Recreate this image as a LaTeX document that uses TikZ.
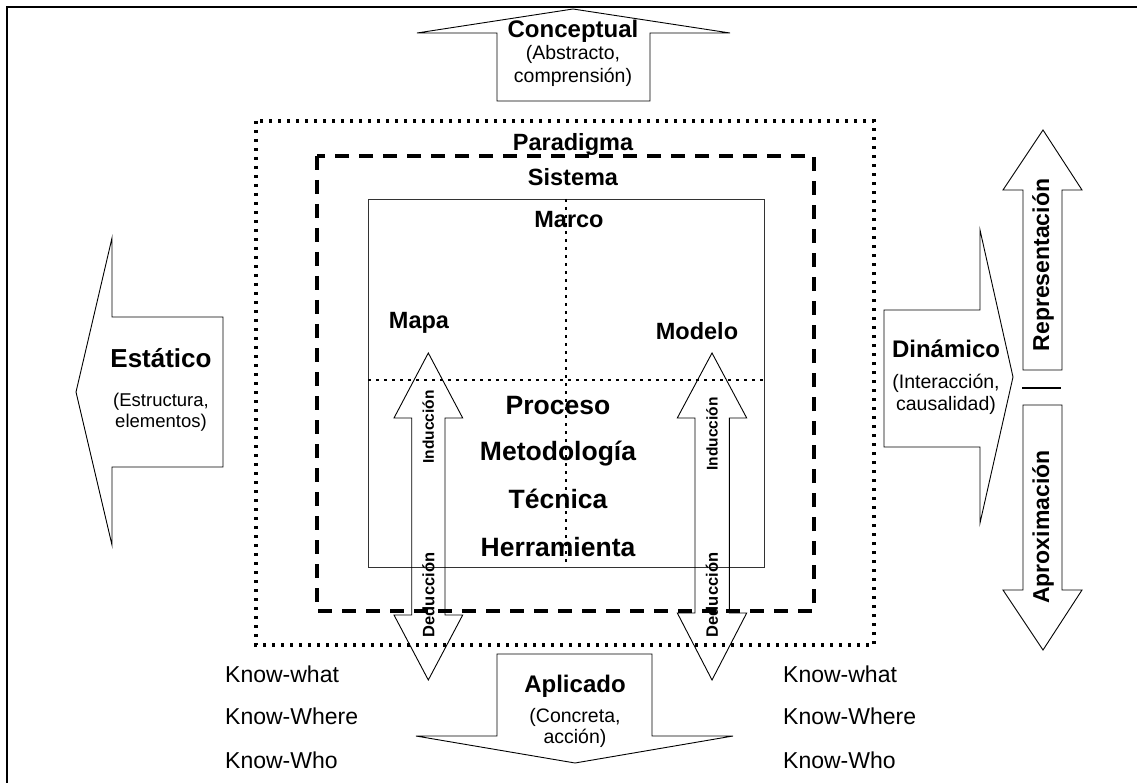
\documentclass[tikz,border=0pt]{standalone}
\usepackage{fontspec}
\setmainfont{Liberation Sans}
\begin{document}
\begin{tikzpicture}[x=1pt,y=-1pt,
  blockarrow/.style={draw=black,line width=0.9pt,line join=miter},
  title/.style={font=\fontsize{24}{28}\selectfont\bfseries,anchor=base},
  sub/.style={font=\fontsize{19.5}{23}\selectfont,anchor=base},
  level/.style={font=\fontsize{23.5}{27}\selectfont\bfseries,anchor=base},
  core/.style={font=\fontsize{26.5}{30}\selectfont\bfseries,anchor=base},
  know/.style={font=\fontsize{23}{27}\selectfont,anchor=base west},
  side/.style={font=\fontsize{23}{27}\selectfont\bfseries,rotate=90},
  flow/.style={font=\fontsize{15.5}{18}\selectfont\bfseries,rotate=90},
  inner sep=0pt]
\useasboundingbox (0,0) rectangle (1137,783);

% page frame (top and left edges)
\draw[line width=2.3pt] (7,783) -- (7,7) -- (1137,7);

% nested levels: paradigm, system, framework
\draw[line width=3.4pt,dash pattern=on 3.4pt off 5.6pt] (256,121) rectangle (874,645);
\draw[line width=3.4pt,dash pattern=on 14pt off 10pt] (317,156) rectangle (814,611);
\draw[line width=0.9pt,draw=black!80] (368,199) rectangle (764,567);
\draw[line width=2.5pt,dash pattern=on 2.8pt off 5.2pt] (368,380) -- (764,380);
\draw[line width=2.5pt,dash pattern=on 2.8pt off 5.2pt] (566,199) -- (566,567);

% Conceptual (up)
\draw[blockarrow] (497,101) -- (497,33) -- (417,33) -- (573,9) -- (730,33)
  -- (650,33) -- (650,101) -- cycle;
% Aplicado (down)
\draw[blockarrow] (497,654) -- (652,654) -- (652,736) -- (733,736) -- (575,763)
  -- (416,736) -- (497,736) -- cycle;
% Estatico (left)
\draw[blockarrow] (223,317) -- (223,467) -- (112,467) -- (112,545) -- (76,392)
  -- (112,238) -- (112,317) -- cycle;
% Dinamico (right)
\draw[blockarrow] (884,310) -- (980,310) -- (980,230) -- (1013,377) -- (980,523)
  -- (980,447) -- (884,447) -- cycle;
% Representacion (up) and Aproximacion (down)
\draw[blockarrow] (1023,370) -- (1023,190) -- (1003,190) -- (1043,130) -- (1082,190)
  -- (1062,190) -- (1062,370) -- cycle;
\draw[blockarrow] (1023,405) -- (1062,405) -- (1062,590) -- (1082,590) -- (1043,650)
  -- (1003,590) -- (1023,590) -- cycle;
\draw[line width=2pt] (1022,388) coordinate (sepL) -- (1061,388) coordinate (sepR);

% induction / deduction double arrows
\draw[blockarrow] (411.7,418) -- (394,418) -- (428.3,353) -- (462.7,418) -- (445,418)
  -- (445,615) -- (462.7,615) -- (428.3,680) -- (394,615) -- (411.7,615) -- cycle;
\draw[blockarrow] (695,418) -- (677.3,418) -- (712,353) -- (746.7,418) -- (729.3,418)
  -- (729.3,613) -- (746.7,613) -- (712,680) -- (677.3,613) -- (695,613) -- cycle;

% texts
\node[title] (conc) at (573,37.5) {Conceptual};
\node[sub] (conc1) at (573,60) {(Abstracto,};
\node[sub] (conc2) at (573,83) {comprensión)};

\node[title] (apl) at (575,692) {Aplicado};
\node[sub] (apl1) at (575,722) {(Concreta,};
\node[sub] (apl2) at (575,743) {acción)};

\node[title,font=\fontsize{26}{30}\selectfont\bfseries] (est) at (161,367) {Estático};
\node[sub,font=\fontsize{18.5}{22}\selectfont] (est1) at (161,406) {(Estructura,};
\node[sub,font=\fontsize{18.5}{22}\selectfont] (est2) at (161,427) {elementos)};

\node[title] (din) at (946,357) {Dinámico};
\node[sub] (din1) at (946,388) {(Interacción,};
\node[sub] (din2) at (946,410) {causalidad)};

\node[side] (rep) at (1043,265) {Representación};
\node[side] (apr) at (1043,527) {Aproximación};

\node[level] (par) at (573,151) {Paradigma};
\node[level] (sis) at (573,186) {Sistema};
\node[level] (mar) at (569,228) {Marco};
\node[level] (map) at (419,328) {Mapa};
\node[level] (mod) at (697,339) {Modelo};

\node[core] (pro) at (558,414) {Proceso};
\node[core] (met) at (558,460) {Metodología};
\node[core] (tec) at (558,508) {Técnica};
\node[core] (her) at (558,556) {Herramienta};

\node[flow] (indL) at (428.3,427) {Inducción};
\node[flow,font=\fontsize{16.5}{19}\selectfont\bfseries] (dedL) at (428.3,595) {Deducción};
\node[flow] (indR) at (712,434) {Inducción};
\node[flow,font=\fontsize{16.5}{19}\selectfont\bfseries] (dedR) at (712,595) {Deducción};

\node[know] (kw1) at (225,682) {Know-what};
\node[know] (kw2) at (225,724) {Know-Where};
\node[know] (kw3) at (225,768) {Know-Who};
\node[know] (kw4) at (783,682) {Know-what};
\node[know] (kw5) at (783,724) {Know-Where};
\node[know] (kw6) at (783,768) {Know-Who};
\end{tikzpicture}
\end{document}
